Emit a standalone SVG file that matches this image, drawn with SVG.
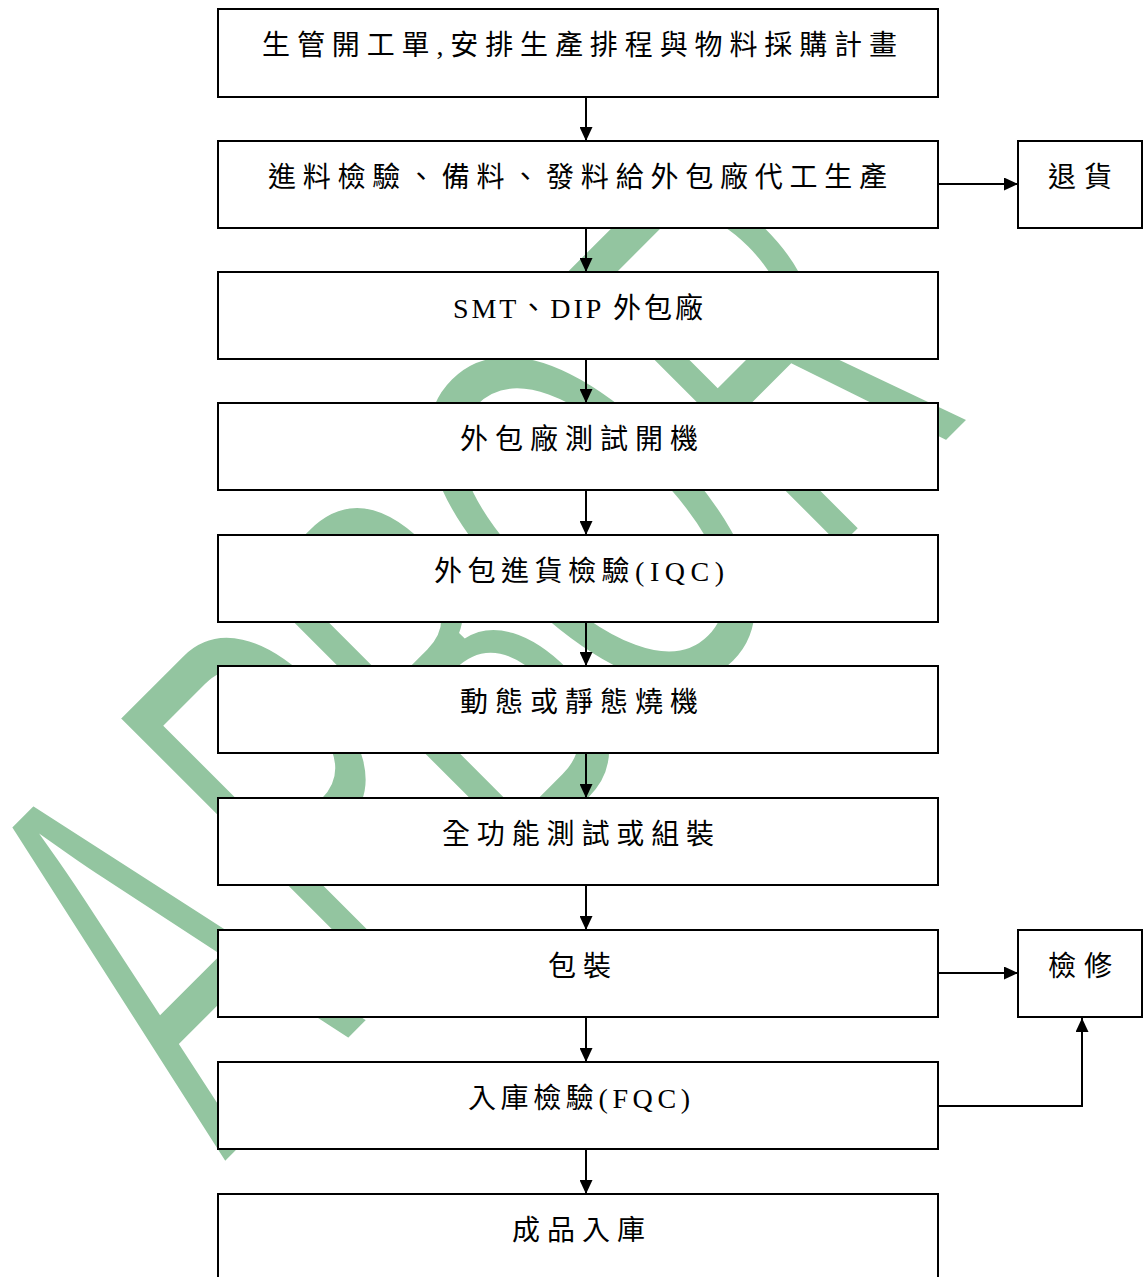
<svg xmlns="http://www.w3.org/2000/svg" width="1148" height="1277" viewBox="0 0 1148 1277">
<style>
.box{fill:#fff;stroke:#000;stroke-width:2}
.lbl{font-family:"Liberation Serif","Noto Sans CJK TC",serif;font-size:28px;fill:#000}
.conn{fill:none;stroke:#000;stroke-width:2}
.wm{font-family:"Liberation Sans",Arial,sans-serif;font-size:573px;fill:#93c5a0;stroke:#fff;stroke-width:8}
</style>
<defs>
<marker id="ah" markerWidth="14" markerHeight="13" refX="14" refY="6.5" orient="auto" markerUnits="userSpaceOnUse">
<path d="M0,0 L14,6.5 L0,13 z" fill="#000"/>
</marker>
</defs>
<rect width="1148" height="1277" fill="#fff"/>
<g id="watermark" class="wm" transform="rotate(-45) scale(0.54,1)">
<text x="-1232" y="984">A</text>
<text x="-833" y="984">P</text>
<text x="-481" y="984">B</text>
<text x="-128" y="984">O</text>
<text x="335" y="984">R</text>
</g>
<g id="connectors">
<line class="conn" x1="586" y1="97" x2="586" y2="141" marker-end="url(#ah)"/>
<line class="conn" x1="586" y1="228" x2="586" y2="272" marker-end="url(#ah)"/>
<line class="conn" x1="586" y1="359" x2="586" y2="403" marker-end="url(#ah)"/>
<line class="conn" x1="586" y1="490" x2="586" y2="535" marker-end="url(#ah)"/>
<line class="conn" x1="586" y1="622" x2="586" y2="666" marker-end="url(#ah)"/>
<line class="conn" x1="586" y1="753" x2="586" y2="798" marker-end="url(#ah)"/>
<line class="conn" x1="586" y1="885" x2="586" y2="930" marker-end="url(#ah)"/>
<line class="conn" x1="586" y1="1017" x2="586" y2="1062" marker-end="url(#ah)"/>
<line class="conn" x1="586" y1="1149" x2="586" y2="1194" marker-end="url(#ah)"/>
<line class="conn" x1="938" y1="184" x2="1018" y2="184" marker-end="url(#ah)"/>
<line class="conn" x1="938" y1="973" x2="1018" y2="973" marker-end="url(#ah)"/>
<path class="conn" d="M938,1106 H1082 V1018" marker-end="url(#ah)"/>
</g>
<g id="n1"><rect class="box" x="218" y="9" width="720" height="88"/><text class="lbl" x="262" y="55" textLength="635" lengthAdjust="spacing">生管開工單,安排生產排程與物料採購計畫</text></g>
<g id="n2"><rect class="box" x="218" y="141" width="720" height="87"/><text class="lbl" x="268" y="187" textLength="619" lengthAdjust="spacing">進料檢驗、備料、發料給外包廠代工生產</text></g>
<g id="n3"><rect class="box" x="218" y="272" width="720" height="87"/><text class="lbl" x="453" y="318" textLength="250" lengthAdjust="spacing">SMT、DIP 外包廠</text></g>
<g id="n4"><rect class="box" x="218" y="403" width="720" height="87"/><text class="lbl" x="460" y="449" textLength="238" lengthAdjust="spacing">外包廠測試開機</text></g>
<g id="n5"><rect class="box" x="218" y="535" width="720" height="87"/><text class="lbl" x="434" y="581" textLength="290" lengthAdjust="spacing">外包進貨檢驗(IQC)</text></g>
<g id="n6"><rect class="box" x="218" y="666" width="720" height="87"/><text class="lbl" x="460" y="712" textLength="238" lengthAdjust="spacing">動態或靜態燒機</text></g>
<g id="n7"><rect class="box" x="218" y="798" width="720" height="87"/><text class="lbl" x="442" y="844" textLength="272" lengthAdjust="spacing">全功能測試或組裝</text></g>
<g id="n8"><rect class="box" x="218" y="930" width="720" height="87"/><text class="lbl" x="548" y="976" textLength="63" lengthAdjust="spacing">包裝</text></g>
<g id="n9"><rect class="box" x="218" y="1062" width="720" height="87"/><text class="lbl" x="468" y="1108" textLength="222" lengthAdjust="spacing">入庫檢驗(FQC)</text></g>
<g id="n10"><rect class="box" x="218" y="1194" width="720" height="90"/><text class="lbl" x="512" y="1240" textLength="133" lengthAdjust="spacing">成品入庫</text></g>
<g id="n11"><rect class="box" x="1018" y="141" width="124" height="87"/><text class="lbl" x="1048" y="187" textLength="64" lengthAdjust="spacing">退貨</text></g>
<g id="n12"><rect class="box" x="1018" y="930" width="124" height="87"/><text class="lbl" x="1048" y="976" textLength="64" lengthAdjust="spacing">檢修</text></g>
</svg>
